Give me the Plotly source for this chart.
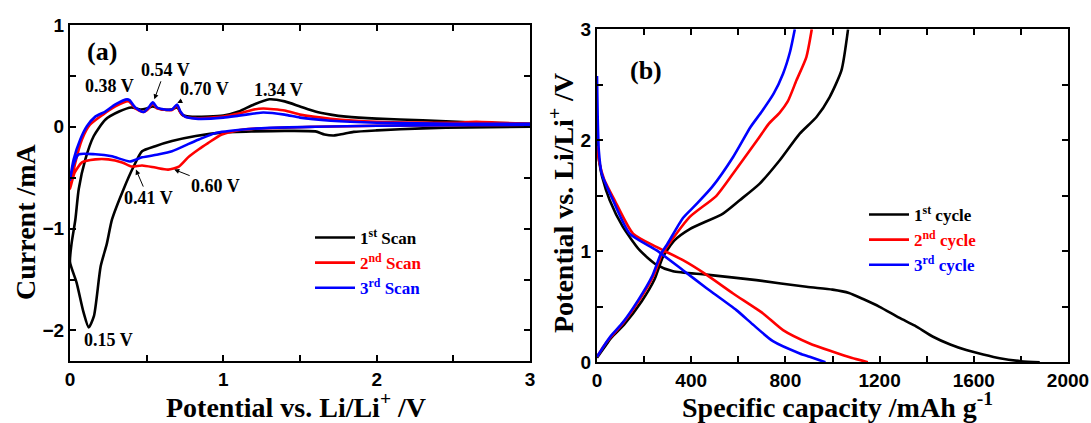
import plotly.graph_objects as go

# ---------------- Panel (a): cyclic voltammetry ----------------
cv1_x = [3.0, 2.6, 2.3, 2.0, 1.85, 1.78, 1.72, 1.66, 1.6, 1.4, 1.2, 1.0, 0.82, 0.665, 0.556, 0.47, 0.415, 0.35,
         0.274, 0.24, 0.2, 0.156, 0.122, 0.088, 0.043, 0.0,
         0.01, 0.035, 0.057, 0.1, 0.155, 0.23, 0.32, 0.40, 0.46, 0.5, 0.54, 0.6, 0.66, 0.7, 0.73, 0.78, 0.9,
         1.0, 1.1, 1.2, 1.3, 1.4, 1.5, 1.6, 1.7, 1.8, 2.0, 2.3, 2.6, 3.0]
cv1_y = [0.0, -0.005, -0.015, -0.035, -0.05, -0.07, -0.085, -0.075, -0.045, -0.04, -0.045, -0.055, -0.09, -0.14,
         -0.19, -0.24, -0.39, -0.61, -0.91, -1.15, -1.37, -1.86, -1.97, -1.82, -1.53, -1.33,
         -1.15, -0.91, -0.61, -0.32, -0.09, 0.07, 0.15, 0.19, 0.17, 0.18, 0.2, 0.17, 0.17, 0.19, 0.12, 0.1, 0.1,
         0.11, 0.15, 0.22, 0.27, 0.25, 0.2, 0.15, 0.12, 0.1, 0.08, 0.065, 0.045, 0.03]

cv2_x = [3.0, 2.5, 2.0, 1.6, 1.36, 1.13, 0.99, 0.9, 0.84, 0.77, 0.71, 0.64, 0.556, 0.47, 0.40, 0.34, 0.25, 0.165,
         0.078, 0.03, 0.0,
         0.035, 0.078, 0.13, 0.215, 0.296, 0.383, 0.426, 0.48, 0.513, 0.54, 0.567, 0.6, 0.665, 0.698, 0.72, 0.75,
         0.82, 1.0, 1.1, 1.2, 1.26, 1.4, 1.5, 1.7, 2.0, 2.5, 2.65, 2.8, 3.0]
cv2_y = [0.02, 0.015, 0.01, 0.0, -0.01, -0.026, -0.075, -0.16, -0.22, -0.30, -0.39, -0.42, -0.40, -0.38, -0.39,
         -0.35, -0.32, -0.32, -0.35, -0.45, -0.61,
         -0.35, -0.125, 0.02, 0.12, 0.2, 0.25, 0.18, 0.145, 0.18, 0.23, 0.18, 0.17, 0.165, 0.21, 0.14, 0.1,
         0.085, 0.1, 0.13, 0.17, 0.18, 0.16, 0.12, 0.08, 0.05, 0.04, 0.05, 0.04, 0.03]

cv3_x = [3.0, 2.5, 2.0, 1.6, 1.3, 1.13, 0.95, 0.84, 0.77, 0.665, 0.58, 0.47, 0.39, 0.274, 0.165, 0.057, 0.02, 0.0,
         0.024, 0.067, 0.11, 0.165, 0.23, 0.296, 0.372, 0.39, 0.426, 0.48, 0.513, 0.54, 0.567, 0.6, 0.665, 0.698,
         0.72, 0.75, 0.82, 1.0, 1.1, 1.2, 1.26, 1.4, 1.5, 1.7, 2.0, 2.5, 3.0]
cv3_y = [0.02, 0.015, 0.01, 0.0, -0.01, -0.026, -0.06, -0.125, -0.17, -0.24, -0.27, -0.30, -0.34, -0.29, -0.27,
         -0.27, -0.38, -0.52,
         -0.32, -0.125, 0.005, 0.10, 0.15, 0.22, 0.27, 0.26, 0.19, 0.145, 0.19, 0.24, 0.19, 0.175, 0.17, 0.22,
         0.15, 0.1, 0.08, 0.09, 0.11, 0.13, 0.14, 0.12, 0.09, 0.06, 0.04, 0.03, 0.03]

# ---------------- Panel (b): charge / discharge ----------------
d1_cap = [0, 10, 22, 54, 110, 181, 252, 323, 464, 677, 889, 1000, 1070, 1130, 1200, 1285, 1350, 1427, 1500, 1568,
          1640, 1710, 1800, 1880]
d1_v = [2.0, 1.8, 1.67, 1.46, 1.22, 1.01, 0.88, 0.82, 0.79, 0.74, 0.68, 0.655, 0.625, 0.57, 0.5, 0.40, 0.33, 0.23,
        0.16, 0.11, 0.07, 0.036, 0.01, 0.0]
c1_cap = [0, 30, 60, 115, 190, 245, 280, 330, 394, 535, 606, 691, 776, 861, 932, 988, 1038, 1066]
c1_v = [0.04, 0.13, 0.22, 0.34, 0.55, 0.75, 0.95, 1.1, 1.2, 1.34, 1.46, 1.61, 1.82, 2.06, 2.21, 2.39, 2.63, 3.0]

d2_cap = [0, 10, 30, 75, 153, 252, 365, 464, 578, 705, 790, 903, 1002, 1080, 1150]
d2_v = [1.95, 1.8, 1.65, 1.46, 1.16, 1.04, 0.92, 0.79, 0.62, 0.44, 0.29, 0.17, 0.095, 0.04, 0.0]
c2_cap = [0, 30, 60, 110, 180, 240, 275, 310, 394, 507, 578, 680, 730, 776, 810, 847, 889, 912]
c2_v = [0.05, 0.15, 0.23, 0.35, 0.56, 0.78, 0.97, 1.08, 1.31, 1.5, 1.70, 2.0, 2.15, 2.25, 2.35, 2.54, 2.75, 3.0]

d3_cap = [0, 3, 8, 20, 68, 139, 252, 365, 464, 592, 662, 747, 861, 903, 970]
d3_v = [2.58, 2.2, 1.9, 1.7, 1.46, 1.16, 1.01, 0.83, 0.67, 0.47, 0.34, 0.19, 0.08, 0.05, 0.0]
c3_cap = [0, 30, 60, 110, 175, 235, 270, 300, 365, 420, 489, 578, 652, 700, 750, 790, 820, 840]
c3_v = [0.05, 0.15, 0.24, 0.36, 0.56, 0.78, 0.97, 1.07, 1.3, 1.42, 1.58, 1.85, 2.12, 2.26, 2.42, 2.6, 2.8, 3.0]

colors = ["black", "red", "blue"]
scan_names = ["1<sup>st</sup> Scan",
              "<span style='color:red'>2<sup>nd</sup> Scan</span>",
              "<span style='color:blue'>3<sup>rd</sup> Scan</span>"]
cycle_names = ["1<sup>st</sup> cycle",
               "<span style='color:red'>2<sup>nd</sup> cycle</span>",
               "<span style='color:blue'>3<sup>rd</sup> cycle</span>"]

SERIF = "Liberation Serif"
SANS = "Liberation Sans"
LW = 2.6

fig = go.Figure()
for xs, ys, c, n in zip([cv1_x, cv2_x, cv3_x], [cv1_y, cv2_y, cv3_y], colors, scan_names):
    fig.add_trace(go.Scatter(x=xs, y=ys, mode="lines", name=n,
                             line=dict(color=c, width=LW, shape="spline", smoothing=0.6),
                             xaxis="x", yaxis="y", legend="legend"))

pairs = [(d1_cap, d1_v, c1_cap, c1_v), (d2_cap, d2_v, c2_cap, c2_v), (d3_cap, d3_v, c3_cap, c3_v)]
for (dc, dv, cc, cvv), c, n in zip(pairs, colors, cycle_names):
    fig.add_trace(go.Scatter(x=dc, y=dv, mode="lines", name=n,
                             line=dict(color=c, width=LW, shape="spline", smoothing=0.6),
                             xaxis="x2", yaxis="y2", legend="legend2"))
    fig.add_trace(go.Scatter(x=cc, y=cvv, mode="lines", name=n, showlegend=False,
                             line=dict(color=c, width=LW, shape="spline", smoothing=0.6),
                             xaxis="x2", yaxis="y2"))

W, H = 1091, 423
axis_common = dict(showline=True, linewidth=2, linecolor="black", mirror="ticks", ticks="inside",
                   ticklen=6, tickwidth=1.5, tickcolor="black", showgrid=False, zeroline=False,
                   automargin=False,
                   tickfont=dict(family=SANS, size=19, color="black", weight="bold"))
minor_common = dict(ticks="inside", ticklen=6, tickwidth=1.5, tickcolor="black", showgrid=False)

fig.update_layout(
    template="none",
    width=W, height=H, margin=dict(l=0, r=0, t=0, b=0, autoexpand=False),
    paper_bgcolor="white", plot_bgcolor="white",
    xaxis=dict(domain=[70 / W, 530 / W], range=[0, 3], dtick=1, tick0=0,
               minor=dict(dtick=0.5, **minor_common), anchor="y", **axis_common),
    yaxis=dict(domain=[1 - 361 / H, 1 - 25 / H], range=[-2.3, 1], dtick=1, tick0=0,
               minor=dict(dtick=0.5, **minor_common), anchor="x", **axis_common),
    xaxis2=dict(domain=[597 / W, 1068 / W], range=[0, 2000], dtick=400, tick0=0,
                minor=dict(dtick=200, **minor_common), anchor="y2", **axis_common),
    yaxis2=dict(domain=[1 - 362.3 / H, 1 - 29.3 / H], range=[0, 3], dtick=1, tick0=0,
                minor=dict(dtick=0.5, **minor_common), anchor="x2", **axis_common),
    legend=dict(x=310 / W, y=1 - 220 / H, xanchor="left", yanchor="top", bgcolor="rgba(0,0,0,0)",
                font=dict(family=SERIF, size=17, color="black", weight="bold"), tracegroupgap=0,
                itemwidth=40),
    legend2=dict(x=864 / W, y=1 - 197 / H, xanchor="left", yanchor="top", bgcolor="rgba(0,0,0,0)",
                 font=dict(family=SERIF, size=17, color="black", weight="bold"), tracegroupgap=0,
                 itemwidth=40),
    showlegend=True,
)

# axis titles
title_font = dict(family=SERIF, size=28, color="black", weight="bold")
ann_c = dict(xref="paper", yref="paper", xanchor="center", yanchor="middle", showarrow=False, font=title_font)
fig.add_annotation(text="Current /mA", x=25 / W, y=1 - 222 / H, textangle=-90, **ann_c)
fig.add_annotation(text="Potential vs. Li/Li<sup>+</sup> /V", x=296 / W, y=1 - 405 / H, **ann_c)
fig.add_annotation(text="Potential vs. Li/Li<sup>+</sup> /V", x=561 / W, y=1 - 203 / H, textangle=-90, **ann_c)
fig.add_annotation(text="Specific capacity /mAh g<sup>-1</sup>", x=837 / W, y=1 - 405 / H, **ann_c)

# panel labels
fig.add_annotation(text="(a)", x=0.21, y=0.74, xref="x", yref="y", showarrow=False,
                   font=dict(family=SERIF, size=26, color="black", weight="bold"))
fig.add_annotation(text="(b)", x=207, y=2.63, xref="x2", yref="y2", showarrow=False,
                   font=dict(family=SERIF, size=26, color="black", weight="bold"))

# peak labels without arrows
lab_font = dict(family=SERIF, size=18, color="black", weight="bold")
for t, x, y in [("1.34 V", 1.36, 0.36), ("0.15 V", 0.25, -2.09)]:
    fig.add_annotation(text=t, x=x, y=y, xref="x", yref="y", showarrow=False, font=lab_font)

# peak labels with arrows: (text, head x, head y, text x, text y)
arrow_labels = [("0.38 V", 0.375, 0.28, 0.26, 0.40), ("0.54 V", 0.55, 0.27, 0.62, 0.56),
                ("0.70 V", 0.70, 0.235, 0.88, 0.37), ("0.41 V", 0.43, -0.42, 0.51, -0.70),
                ("0.60 V", 0.68, -0.42, 0.95, -0.58)]
for t, hx, hy, tx, ty in arrow_labels:
    fig.add_annotation(text=t, x=hx, y=hy, ax=tx, ay=ty, xref="x", yref="y", axref="x", ayref="y",
                       showarrow=True, arrowhead=2, arrowsize=1, arrowwidth=1, arrowcolor="black",
                       standoff=0, font=lab_font)

fig.write_html("out.html")
